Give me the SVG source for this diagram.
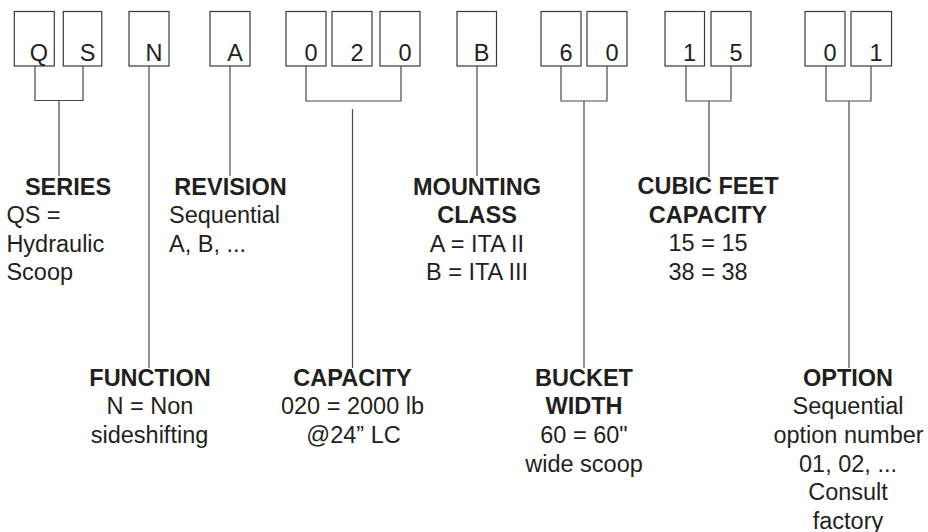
<svg xmlns="http://www.w3.org/2000/svg" width="928" height="532" viewBox="0 0 928 532">
<style>
  .box { fill: #ffffff; stroke: #3a3a3a; stroke-width: 1.2; }
  .ch { font-family: "Liberation Sans", Arial, sans-serif; font-size: 23.5px; fill: #231f20; text-anchor: middle; }
  .conn { fill: none; stroke: #4a4a4a; stroke-width: 1.2; }
  .t { font-family: "Liberation Sans", Arial, sans-serif; font-size: 23.5px; fill: #231f20; }
  .h { font-weight: bold; }
  .c { text-anchor: middle; }
</style>
<rect width="928" height="532" fill="#ffffff"/>

<g id="code-boxes">
  <g id="box-Q"><rect class="box" x="14.3" y="11.5" width="40" height="54.5"/><text class="ch" x="39" y="61">Q</text></g>
  <g id="box-S"><rect class="box" x="63.3" y="11.5" width="38.5" height="54.5"/><text class="ch" x="87.5" y="61">S</text></g>
  <g id="box-N"><rect class="box" x="129" y="11.5" width="40" height="54.5"/><text class="ch" x="154" y="61">N</text></g>
  <g id="box-A"><rect class="box" x="210" y="11.5" width="40" height="54.5"/><text class="ch" x="235" y="61">A</text></g>
  <g id="box-0a"><rect class="box" x="286" y="11.5" width="40" height="54.5"/><text class="ch" x="311" y="61">0</text></g>
  <g id="box-2"><rect class="box" x="332" y="11.5" width="40" height="54.5"/><text class="ch" x="357" y="61">2</text></g>
  <g id="box-0b"><rect class="box" x="380" y="11.5" width="40" height="54.5"/><text class="ch" x="405" y="61">0</text></g>
  <g id="box-B"><rect class="box" x="457" y="11.5" width="39.5" height="54.5"/><text class="ch" x="481.5" y="61">B</text></g>
  <g id="box-6"><rect class="box" x="541" y="11.5" width="40" height="54.5"/><text class="ch" x="566" y="61">6</text></g>
  <g id="box-0c"><rect class="box" x="587" y="11.5" width="40" height="54.5"/><text class="ch" x="612" y="61">0</text></g>
  <g id="box-1a"><rect class="box" x="665" y="11.5" width="39.5" height="54.5"/><text class="ch" x="689.5" y="61">1</text></g>
  <g id="box-5"><rect class="box" x="711" y="11.5" width="40" height="54.5"/><text class="ch" x="736" y="61">5</text></g>
  <g id="box-0d"><rect class="box" x="805" y="11.5" width="40" height="54.5"/><text class="ch" x="830" y="61">0</text></g>
  <g id="box-1b"><rect class="box" x="851" y="11.5" width="40.5" height="54.5"/><text class="ch" x="876" y="61">1</text></g>
</g>

<g id="connectors">
  <path class="conn" d="M35 66 V100.5 H83 V66 M59 100.5 V176"/>
  <path class="conn" d="M149 66 V368"/>
  <path class="conn" d="M230 66 V176"/>
  <path class="conn" d="M306 66 V101 H401 V66 M352.5 109 V368"/>
  <path class="conn" d="M477 66 V176"/>
  <path class="conn" d="M561 66 V101 H607 V66 M584 101 V368"/>
  <path class="conn" d="M686 66 V101 H731 V66 M709 101 V177"/>
  <path class="conn" d="M826 66 V101 H871 V66 M849 101 V368"/>
</g>

<g id="label-series">
  <text class="t h c" x="68" y="194.5">SERIES</text>
  <text class="t" x="6.4" y="223">QS =</text>
  <text class="t" x="6.4" y="251.5">Hydraulic</text>
  <text class="t" x="6.4" y="280">Scoop</text>
</g>
<g id="label-revision">
  <text class="t h c" x="230.5" y="194.5">REVISION</text>
  <text class="t" x="169" y="223">Sequential</text>
  <text class="t" x="169" y="251.5">A, B, ...</text>
</g>
<g id="label-mounting">
  <text class="t h c" x="477" y="194.5">MOUNTING</text>
  <text class="t h c" x="477" y="223">CLASS</text>
  <text class="t c" x="477" y="251.5">A = ITA II</text>
  <text class="t c" x="477" y="280">B = ITA III</text>
</g>
<g id="label-cubic">
  <text class="t h c" x="708" y="194">CUBIC FEET</text>
  <text class="t h c" x="708" y="222.7">CAPACITY</text>
  <text class="t c" x="708" y="251.3">15 = 15</text>
  <text class="t c" x="708" y="280">38 = 38</text>
</g>
<g id="label-function">
  <text class="t h c" x="150" y="385.7">FUNCTION</text>
  <text class="t c" x="150" y="414.3">N = Non</text>
  <text class="t c" x="149.5" y="443">sideshifting</text>
</g>
<g id="label-capacity">
  <text class="t h c" x="352.5" y="385.7">CAPACITY</text>
  <text class="t c" x="352.5" y="414.3">020 = 2000 lb</text>
  <text class="t c" x="353.5" y="443">@24” LC</text>
</g>
<g id="label-bucket">
  <text class="t h c" x="584" y="385.7">BUCKET</text>
  <text class="t h c" x="584" y="414.3">WIDTH</text>
  <text class="t c" x="584" y="443">60 = 60"</text>
  <text class="t c" x="584" y="471.6">wide scoop</text>
</g>
<g id="label-option">
  <text class="t h c" x="848" y="385.7">OPTION</text>
  <text class="t c" x="848" y="414.3">Sequential</text>
  <text class="t c" x="848.5" y="443">option number</text>
  <text class="t c" x="848" y="471.6">01, 02, ...</text>
  <text class="t c" x="848" y="500.2">Consult</text>
  <text class="t c" x="848" y="528.8">factory</text>
</g>
</svg>
